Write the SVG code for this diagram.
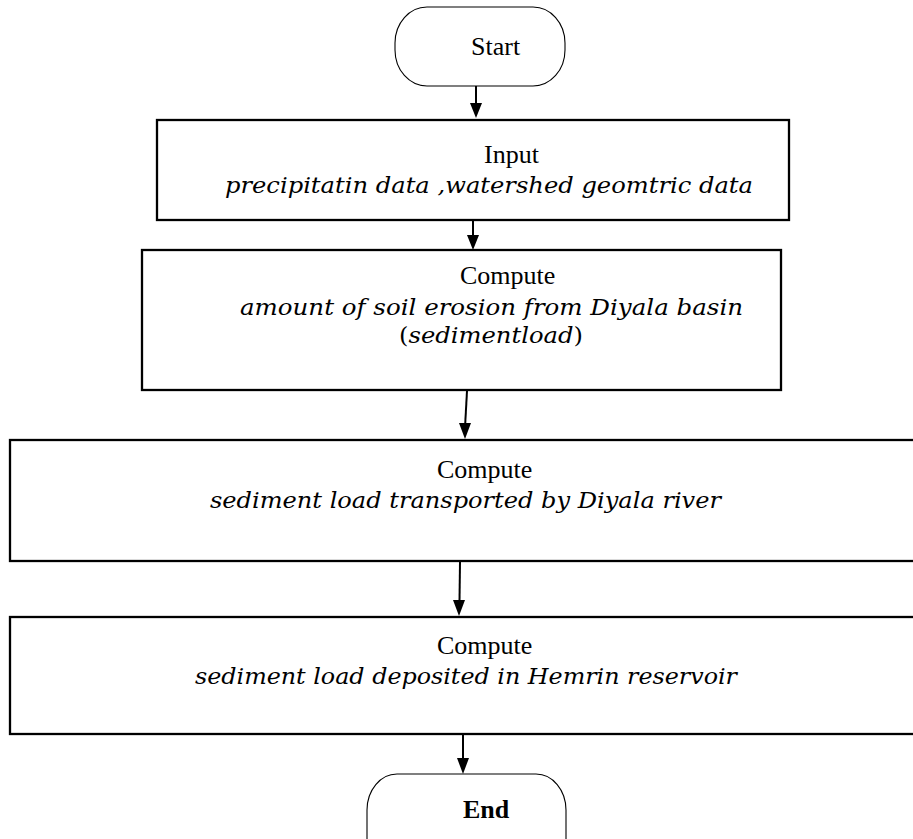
<svg xmlns="http://www.w3.org/2000/svg" width="913" height="839" viewBox="0 0 913 839">
<defs>
<style>
.box{fill:#fff;stroke:#000;stroke-width:2.3}
.term{fill:#fff;stroke:#000;stroke-width:1.1}
.t{font-family:"Liberation Serif","Times New Roman",serif;font-size:26px;fill:#000}
.m{font-family:"DejaVu Serif","Liberation Serif",serif;font-style:italic;font-size:23px;fill:#000}
.mu{font-family:"DejaVu Serif","Liberation Serif",serif;font-style:normal}
.c{stroke:#000;stroke-width:2;fill:none}
.ah{fill:#000}
</style>
</defs>
<rect width="913" height="839" fill="#fff"/>
<g id="connectors">
<line class="c" x1="476" y1="86" x2="476" y2="104"/>
<path class="ah" d="M470,103 L482,103 L476,118 Z"/>
<line class="c" x1="473" y1="220" x2="473" y2="236"/>
<path class="ah" d="M467,235 L479,235 L473,250 Z"/>
<line class="c" x1="467" y1="391" x2="465.2" y2="424"/>
<path class="ah" d="M459,423 L471,423 L465,439 Z"/>
<line class="c" x1="460" y1="562" x2="459.5" y2="601"/>
<path class="ah" d="M453,600 L465,600 L459,616 Z"/>
<line class="c" x1="463" y1="735" x2="463" y2="759"/>
<path class="ah" d="M457,758 L469,758 L463,774 Z"/>
</g>
<g id="start">
<rect class="term" x="395" y="7" width="170" height="79" rx="32" ry="36"/>
<text class="t" x="471" y="55">Start</text>
</g>
<g id="input">
<rect class="box" x="157" y="120" width="632" height="100"/>
<text class="t" x="484" y="163">Input</text>
<text class="m" x="225" y="193" textLength="528" lengthAdjust="spacingAndGlyphs">precipitatin data ,watershed geomtric data</text>
</g>
<g id="compute1">
<rect class="box" x="142" y="250" width="639" height="140"/>
<text class="t" x="460" y="284">Compute</text>
<text class="m" x="240" y="315" textLength="503" lengthAdjust="spacingAndGlyphs">amount of soil erosion from Diyala basin</text>
<text class="m" x="399" y="343" textLength="184" lengthAdjust="spacingAndGlyphs"><tspan class="mu">(</tspan>sedimentload<tspan class="mu">)</tspan></text>
</g>
<g id="compute2">
<rect class="box" x="10" y="440" width="920" height="121"/>
<text class="t" x="437" y="478">Compute</text>
<text class="m" x="210" y="508" textLength="511" lengthAdjust="spacingAndGlyphs">sediment load transported by Diyala river</text>
</g>
<g id="compute3">
<rect class="box" x="10" y="617" width="920" height="117"/>
<text class="t" x="437" y="654">Compute</text>
<text class="m" x="195" y="684" textLength="542" lengthAdjust="spacingAndGlyphs">sediment load deposited in Hemrin reservoir</text>
</g>
<g id="end">
<rect class="term" x="367" y="774" width="199" height="110" rx="30" ry="36"/>
<text class="t" x="463" y="818" font-weight="bold">End</text>
</g>
</svg>
